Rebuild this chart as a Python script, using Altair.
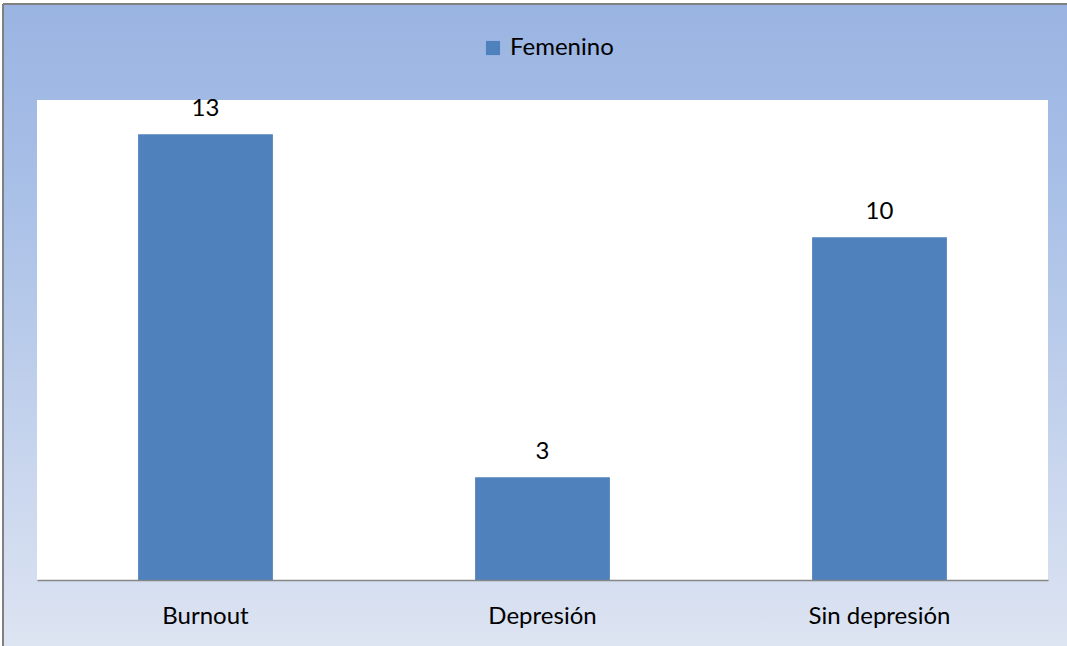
import altair as alt
import pandas as pd

categorias = ["Burnout", "Depresión", "Sin depresión"]
valores = [13, 3, 10]
serie = ["Femenino", "Femenino", "Femenino"]

df = pd.DataFrame({"categoria": categorias, "valor": valores, "serie": serie})
one = pd.DataFrame({"k": [0]})

W, H = 1011, 480
PL, PT = 37, 100
FONT = "Lato"

grad = alt.Gradient(
    gradient="linear",
    stops=[
        alt.GradientStop(color="#9ab4e2", offset=0),
        alt.GradientStop(color="#a9c0e7", offset=0.3),
        alt.GradientStop(color="#dde4f2", offset=1),
    ],
    x1=0, x2=0, y1=0, y2=1,
)

bg = alt.Chart(one).mark_rect(fill=grad).encode(
    x=alt.value(-33), x2=alt.value(1030), y=alt.value(-95), y2=alt.value(546)
)
border_top = alt.Chart(one).mark_rule(color="#808080", strokeWidth=2).encode(
    x=alt.value(-34), x2=alt.value(1030), y=alt.value(-96)
)
border_left = alt.Chart(one).mark_rule(color="#808080", strokeWidth=2).encode(
    x=alt.value(-34), y=alt.value(-96), y2=alt.value(546)
)
plot_bg = alt.Chart(one).mark_rect(fill="white").encode(
    x=alt.value(0), x2=alt.value(W), y=alt.value(0), y2=alt.value(H)
)

x_enc = alt.X(
    "categoria:N",
    sort=categorias,
    scale=alt.Scale(paddingInner=0.6, paddingOuter=0.3),
    axis=alt.Axis(
        title=None, labelAngle=0, ticks=False, tickSize=0,
        labelFont=FONT, labelFontSize=24, labelColor="#000000",
        labelBaseline="alphabetic", labelPadding=43,
        domainColor="#868686", domainWidth=1.5, zindex=1,
    ),
)
y_enc = alt.Y("valor:Q", scale=alt.Scale(domain=[0, 14]), axis=None)

bars = alt.Chart(df).mark_bar().encode(
    x=x_enc,
    y=y_enc,
    color=alt.Color(
        "serie:N",
        scale=alt.Scale(range=["#4f81bd"]),
        legend=alt.Legend(
            title=None, orient="none", legendX=444, legendY=-64,
            symbolType="square", symbolSize=200, symbolStrokeWidth=0,
            labelFont=FONT, labelFontSize=24, labelColor="#000000",
            labelOffset=5, padding=0, zindex=1,
        ),
    ),
)

text = alt.Chart(df).mark_text(
    dy=-18, baseline="alphabetic", fontSize=24, font=FONT, color="#000000"
).encode(x=alt.X("categoria:N", sort=categorias), y=y_enc, text="valor:Q")

chart = alt.layer(bg, border_top, border_left, plot_bg, bars, text).properties(
    width=W, height=H,
    autosize=alt.AutoSizeParams(type="none"),
    padding={"left": PL, "top": PT, "right": 1067 - PL - W, "bottom": 646 - PT - H},
    background="white",
).configure_view(stroke=None)

chart.save("out.html", embed_options={"renderer": "svg", "actions": False})
